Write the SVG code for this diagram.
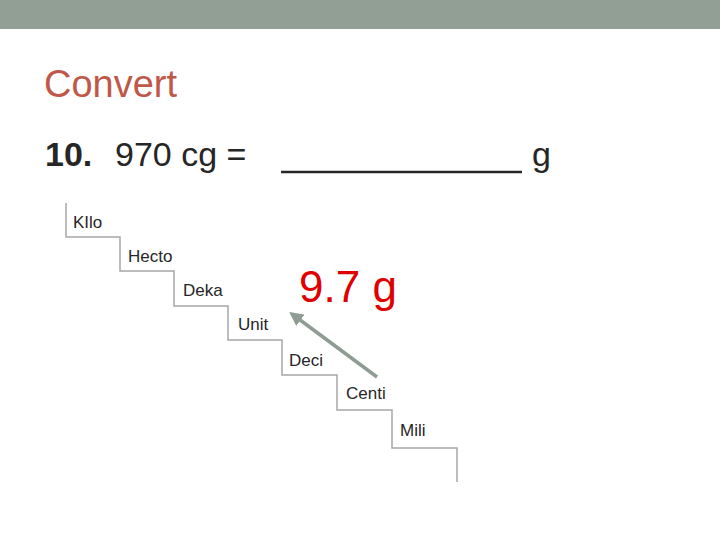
<svg xmlns="http://www.w3.org/2000/svg" width="720" height="540" viewBox="0 0 720 540">
<style>
.t{font-family:"Liberation Sans",Arial,sans-serif;fill:#262626}
.lbl{font-size:17px}
.stair{fill:none;stroke:#a6a6a6;stroke-width:1.5}
</style>
<defs>
<marker id="ah" markerWidth="4" markerHeight="4" refX="3" refY="2" orient="auto" markerUnits="strokeWidth">
<path d="M0,0 L4,2 L0,4 z" fill="#8f9c93"/>
</marker>
</defs>
<rect width="720" height="540" fill="#fff"/>
<rect id="topbar" x="0" y="0" width="720" height="29" fill="#929f95"/>
<text id="title" x="44" y="97" font-family="Liberation Sans,Arial,sans-serif" font-size="38" fill="#c0584a" textLength="133" lengthAdjust="spacingAndGlyphs">Convert</text>
<g id="question">
<text class="t" x="45" y="166" font-size="34" font-weight="bold">10.</text>
<text class="t" x="115" y="166" font-size="34">970 cg =</text>
<line x1="281" y1="172" x2="522" y2="172" stroke="#262626" stroke-width="2.5"/>
<text class="t" x="532" y="166" font-size="34">g</text>
</g>
<g id="stairs">
<polyline class="stair" points="66,203 66,237 120,237 120,271 174,271 174,306 228,306 228,340 282,340 282,375 337,375 337,410 392,410 392,448 457,448 457,482"/>
</g>
<g id="kilo"><text class="t lbl" x="73" y="228">KIlo</text></g>
<g id="hecto"><text class="t lbl" x="128" y="262">Hecto</text></g>
<g id="deka"><text class="t lbl" x="183" y="296">Deka</text></g>
<g id="unit"><text class="t lbl" x="238" y="330">Unit</text></g>
<g id="deci"><text class="t lbl" x="289" y="366">Deci</text></g>
<g id="centi"><text class="t lbl" x="346" y="399">Centi</text></g>
<g id="mili"><text class="t lbl" x="400" y="436">Mili</text></g>
<g id="answer"><text x="299" y="302" font-family="Liberation Sans,Arial,sans-serif" font-size="44" fill="#e00000">9.7 g</text></g>
<g id="connectors">
<line x1="377" y1="377" x2="292" y2="314" stroke="#8f9c93" stroke-width="3.5" marker-end="url(#ah)"/>
</g>
</svg>
